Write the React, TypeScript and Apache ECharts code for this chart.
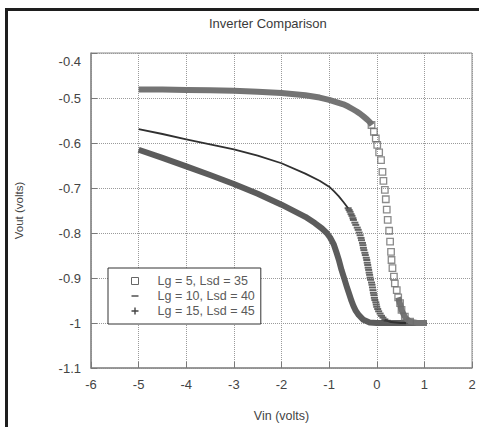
import React, { useEffect, useRef } from "react";
import * as echarts from "echarts";

const seriesNames = ["Lg = 5, Lsd = 35", "Lg = 10, Lsd = 40", "Lg = 15, Lsd = 45"];

// Lg = 5 (squares): dense band, separated squares, lower band
const s1Upper = [
  [-5.0, -0.481], [-4.5, -0.481], [-4.0, -0.482], [-3.5, -0.483], [-3.0, -0.484],
  [-2.5, -0.486], [-2.0, -0.489], [-1.5, -0.494], [-1.2, -0.499], [-1.0, -0.504],
  [-0.85, -0.509], [-0.7, -0.514], [-0.6, -0.519], [-0.5, -0.525], [-0.42, -0.53],
  [-0.35, -0.535], [-0.28, -0.541], [-0.2, -0.548], [-0.15, -0.553], [-0.1, -0.56],
];
const s1Squares = [
  [-0.11, -0.56], [-0.06, -0.575], [-0.02, -0.59], [0.01, -0.604], [0.05, -0.621],
  [0.09, -0.638], [0.12, -0.664], [0.14, -0.684], [0.17, -0.704], [0.19, -0.725],
  [0.21, -0.748], [0.23, -0.771], [0.26, -0.795], [0.28, -0.819], [0.3, -0.842],
  [0.31, -0.86], [0.33, -0.878], [0.36, -0.897], [0.38, -0.912], [0.42, -0.927],
  [0.45, -0.943], [0.49, -0.956], [0.52, -0.971], [0.59, -0.986], [0.7, -0.997],
];
const s1Lower = [
  [0.45, -0.943], [0.49, -0.958], [0.52, -0.971], [0.56, -0.98], [0.6, -0.988],
  [0.65, -0.993], [0.7, -0.997], [0.85, -1.0], [1.05, -1.0],
];

// Lg = 10 (dashes)
const s2Upper = [
  [-5.0, -0.569], [-4.5, -0.58], [-4.0, -0.592], [-3.5, -0.603], [-3.0, -0.614],
  [-2.5, -0.628], [-2.0, -0.645], [-1.5, -0.668], [-1.2, -0.684], [-1.0, -0.697],
  [-0.9, -0.707], [-0.8, -0.718], [-0.7, -0.731], [-0.6, -0.745],
];
const s2Dashes = [
  [-0.6, -0.745], [-0.58, -0.749], [-0.56, -0.753], [-0.54, -0.758], [-0.52, -0.762],
  [-0.5, -0.767], [-0.49, -0.771], [-0.46, -0.777], [-0.44, -0.782], [-0.41, -0.788],
  [-0.39, -0.793], [-0.37, -0.799], [-0.35, -0.805], [-0.33, -0.811], [-0.32, -0.816],
  [-0.3, -0.822], [-0.29, -0.827], [-0.28, -0.833], [-0.27, -0.838], [-0.25, -0.844],
  [-0.24, -0.849], [-0.22, -0.855], [-0.21, -0.86], [-0.2, -0.866], [-0.19, -0.871],
  [-0.18, -0.877], [-0.17, -0.882], [-0.16, -0.888], [-0.15, -0.893], [-0.14, -0.899],
  [-0.13, -0.904], [-0.11, -0.91], [-0.1, -0.915], [-0.09, -0.921], [-0.08, -0.927],
  [-0.07, -0.933], [-0.06, -0.938], [-0.05, -0.944], [-0.04, -0.949], [-0.02, -0.954],
  [-0.01, -0.959], [0.0, -0.964], [0.02, -0.969], [0.04, -0.974], [0.07, -0.979],
  [0.1, -0.984], [0.13, -0.988], [0.17, -0.992], [0.22, -0.995],
];
const s2Lower = [[0.17, -0.993], [0.3, -0.998], [0.5, -1.0], [1.05, -1.0]];

// Lg = 15 (crosses)
const s3Band = [
  [-5.0, -0.615], [-4.5, -0.633], [-4.0, -0.652], [-3.5, -0.671], [-3.0, -0.691],
  [-2.5, -0.713], [-2.0, -0.737], [-1.5, -0.764], [-1.3, -0.778], [-1.15, -0.79],
  [-1.05, -0.8], [-0.98, -0.81], [-0.9, -0.826], [-0.84, -0.845], [-0.79, -0.862],
  [-0.74, -0.882], [-0.68, -0.902], [-0.63, -0.919], [-0.58, -0.935], [-0.53, -0.951],
  [-0.49, -0.962], [-0.44, -0.973], [-0.38, -0.982], [-0.28, -0.993], [-0.15, -0.999],
  [0.0, -1.0], [0.5, -1.0], [1.05, -1.0],
];

const FONT = "'Liberation Sans', Arial, sans-serif";

export default function App() {
  const ref = useRef<HTMLDivElement>(null);
  useEffect(() => {
    if (!ref.current) return;
    const chart = echarts.init(ref.current, null, { renderer: "svg" });
    const bandColor1 = "#747474";
    const color2 = "#303030";
    const color3 = "#5c5c5c";
    chart.setOption({
      animation: false,
      backgroundColor: "#ffffff",
      textStyle: { fontFamily: FONT },
      title: {
        text: "Inverter Comparison",
        left: 209,
        top: 17,
        padding: 0,
        textStyle: { fontSize: 13, fontWeight: "normal", color: "#3a3a3a", fontFamily: FONT },
      },
      grid: {
        left: 91, right: 7, top: 53, bottom: 59,
        show: true, borderColor: "#8a8a8a", borderWidth: 1,
      },
      legend: {
        orient: "vertical",
        left: 108,
        top: 268,
        padding: [6, 6, 6, 23],
        itemGap: 1,
        itemWidth: 7,
        itemHeight: 7,
        selectedMode: false,
        backgroundColor: "#ffffff",
        borderColor: "#333333",
        borderWidth: 1,
        textStyle: { fontSize: 12.5, lineHeight: 14, color: "#5a5a5a", fontFamily: FONT, padding: [0, 0, 0, 14] },
        data: [
          { name: seriesNames[0], icon: "rect", itemStyle: { color: "#ffffff", borderColor: "#666666", borderWidth: 1 } },
          { name: seriesNames[1], icon: "path://M0,0H8V1.6H0Z", itemStyle: { color: "#444444", borderWidth: 0 } },
          { name: seriesNames[2], icon: "path://M3,0H4.5V3H7.5V4.5H4.5V7.5H3V4.5H0V3H3Z", itemStyle: { color: "#444444", borderWidth: 0 } },
        ],
      },
      xAxis: {
        type: "value",
        min: -6, max: 2, interval: 1,
        name: "Vin (volts)",
        nameLocation: "middle",
        nameGap: 41,
        nameTextStyle: { fontSize: 12.5, color: "#444444", fontFamily: FONT },
        axisLine: { show: true, onZero: false, lineStyle: { color: "#8a8a8a", width: 1.5 } },
        axisTick: { show: true, inside: true, length: 6, lineStyle: { color: "#7a7a7a" } },
        axisLabel: { margin: 10, fontSize: 13, color: "#444444", fontFamily: FONT },
        splitLine: { show: true, lineStyle: { type: "dotted", color: "#9a9a9a", width: 1 } },
      },
      yAxis: {
        type: "value",
        min: -1.1, max: -0.4, interval: 0.1,
        name: "Vout (volts)",
        nameLocation: "middle",
        nameGap: 66,
        nameTextStyle: { fontSize: 11.5, color: "#444444", fontFamily: FONT },
        axisLine: { show: true, onZero: false, lineStyle: { color: "#8a8a8a", width: 1.5 } },
        axisTick: { show: true, inside: true, length: 6, lineStyle: { color: "#7a7a7a" } },
        axisLabel: {
          margin: 10, fontSize: 13, color: "#444444", fontFamily: FONT,
          formatter: (v: number) => {
            const s = String(Math.round(v * 10) / 10);
            return Math.abs(v + 0.4) < 1e-9 ? "{top|" + s + "}" : s;
          },
          rich: { top: { padding: [17, 0, 0, 0], fontSize: 13, color: "#444444", fontFamily: FONT } },
        },
        splitLine: { show: true, lineStyle: { type: "dotted", color: "#9a9a9a", width: 1 } },
      },
      graphic: [
        { type: "line", shape: { x1: 6.5, y1: 8, x2: 6.5, y2: 427 }, style: { stroke: "#1e1e1e", lineWidth: 3 }, z: 100 },
        { type: "line", shape: { x1: 5, y1: 9.5, x2: 479, y2: 9.5 }, style: { stroke: "#1e1e1e", lineWidth: 3 }, z: 100 },
      ],
      series: [
        {
          name: seriesNames[2], type: "line", data: s3Band, smooth: false,
          showSymbol: false, symbol: "none", z: 2,
          lineStyle: { color: color3, width: 6, join: "round" }, itemStyle: { color: color3 },
        },
        {
          name: seriesNames[1], type: "line", data: s2Upper, smooth: false, showSymbol: false, symbol: "none", z: 3,
          lineStyle: { color: color2, width: 1.8, join: "round" }, itemStyle: { color: color2 },
        },
        {
          name: seriesNames[1], type: "scatter", data: s2Dashes, symbol: "rect", symbolSize: [7, 2], z: 3,
          itemStyle: { color: "#3c3c3c" },
        },
        {
          name: seriesNames[1], type: "line", data: s2Lower, smooth: false, showSymbol: false, symbol: "none", z: 3,
          lineStyle: { color: color2, width: 2 }, itemStyle: { color: color2 },
        },
        {
          name: seriesNames[0], type: "line", data: s1Upper, smooth: false, showSymbol: false, symbol: "none", z: 4,
          lineStyle: { color: bandColor1, width: 6, join: "round" }, itemStyle: { color: bandColor1 },
        },
        {
          name: seriesNames[0], type: "scatter", data: s1Squares, symbol: "rect", symbolSize: 6.5, z: 4,
          itemStyle: { color: "rgba(255,255,255,0)", borderColor: "#6e6e6e", borderWidth: 1.3 },
        },
        {
          name: seriesNames[0], type: "line", data: s1Lower, smooth: false, showSymbol: false, symbol: "none", z: 4,
          lineStyle: { color: bandColor1, width: 6, join: "round" }, itemStyle: { color: bandColor1 },
        },
      ],
    });
    return () => chart.dispose();
  }, []);
  return (
    <div
      ref={ref}
      style={{ position: "absolute", left: 0, top: 0, width: 479, height: 427, background: "#fff" }}
    />
  );
}
